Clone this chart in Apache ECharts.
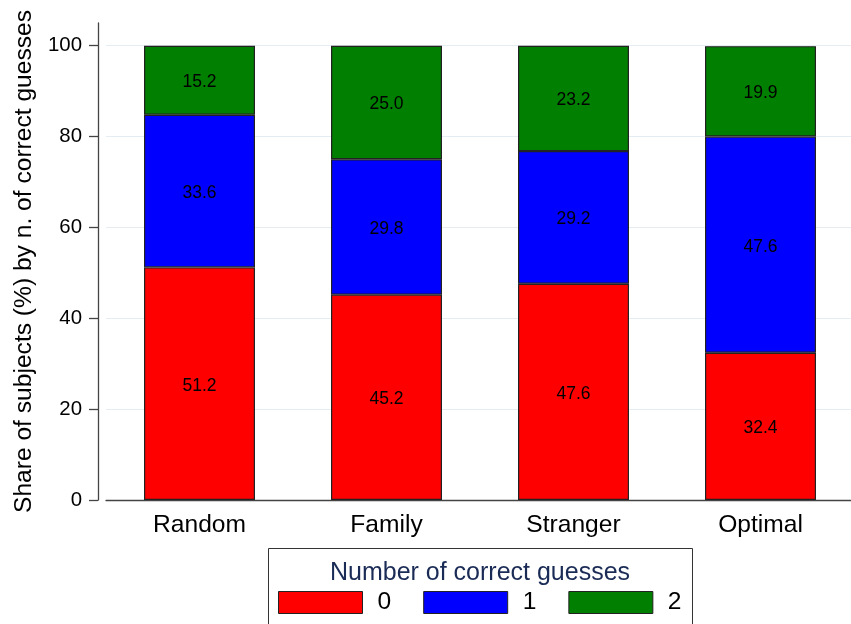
<!DOCTYPE html>
<html>
<head>
<meta charset="utf-8">
<script src="https://cdn.jsdelivr.net/npm/echarts@6/dist/echarts.min.js"></script>
<style>html,body{margin:0;padding:0;background:#fff}#c{width:851px;height:624px}</style>
</head>
<body>
<div id="c"></div>
<script>
var categories = ['Random', 'Family', 'Stranger', 'Optimal'];
var zeroCorrect = [51.2, 45.2, 47.6, 32.4];
var oneCorrect = [33.6, 29.8, 29.2, 47.6];
var twoCorrect = [15.2, 25.0, 23.2, 19.9];
var seriesNames = ['0', '1', '2'];
var yTicks = [0, 20, 40, 60, 80, 100];

var FONT = 'Liberation Sans, Arial, Helvetica, sans-serif';
var colors = ['#ff0000', '#0000ff', '#007f00'];
var values = [zeroCorrect, oneCorrect, twoCorrect];

var chart = echarts.init(document.getElementById('c'), null, {renderer: 'canvas'});
chart.setOption({
  animation: false,
  backgroundColor: '#ffffff',
  color: colors,
  grid: {left: 106, width: 748, top: 23, bottom: 124, containLabel: false, outerBoundsMode: 'none'},
  title: {
    text: 'Number of correct guesses',
    left: 475, textAlign: 'center', top: 556,
    textStyle: {fontFamily: FONT, fontSize: 25, fontWeight: 'normal', color: '#1a2b56'}
  },
  legend: {
    left: 273, top: 585,
    itemWidth: 84, itemHeight: 22, itemGap: 32,
    icon: 'rect',
    data: seriesNames,
    itemStyle: {borderColor: '#222', borderWidth: 1},
    textStyle: {fontFamily: FONT, fontSize: 24.6, color: '#000', padding: [0, 0, 0, 10]}
  },
  graphic: [{
    type: 'rect', left: 266, top: 546,
    shape: {width: 424, height: 100},
    style: {fill: null, stroke: '#333', lineWidth: 1}, silent: true
  }],
  xAxis: {
    type: 'category',
    data: categories,
    axisLine: {show: true, lineStyle: {color: '#444', width: 1.3}},
    axisTick: {show: false},
    splitLine: {show: false},
    axisLabel: {fontFamily: FONT, fontSize: 24.6, color: '#000', margin: 13}
  },
  yAxis: {
    type: 'value', min: 0, max: 105, offset: 8,
    name: 'Share of subjects (%) by n. of correct guesses',
    nameLocation: 'middle', nameGap: 60,
    nameTextStyle: {fontFamily: FONT, fontSize: 24.6, color: '#000'},
    axisLine: {show: true, lineStyle: {color: '#444', width: 1.3}},
    axisTick: {show: true, customValues: yTicks, length: 9, lineStyle: {color: '#444', width: 1.3}},
    axisLabel: {customValues: yTicks, fontFamily: FONT, fontSize: 20.4, color: '#000', margin: 16},
    splitLine: {show: true, lineStyle: {color: '#e6edf2', width: 1.2}}
  },
  series: values.map(function (arr, k) {
    return {
      name: seriesNames[k], type: 'bar', stack: 'total', barWidth: 111,
      data: arr,
      itemStyle: {color: colors[k], borderColor: '#222', borderWidth: 1.2},
      label: {
        show: true, position: 'inside', offset: [0, 2],
        formatter: function (p) { return p.value.toFixed(1); },
        fontFamily: FONT, fontSize: 17.5, color: '#000'
      }
    };
  })
});
</script>
</body>
</html>
